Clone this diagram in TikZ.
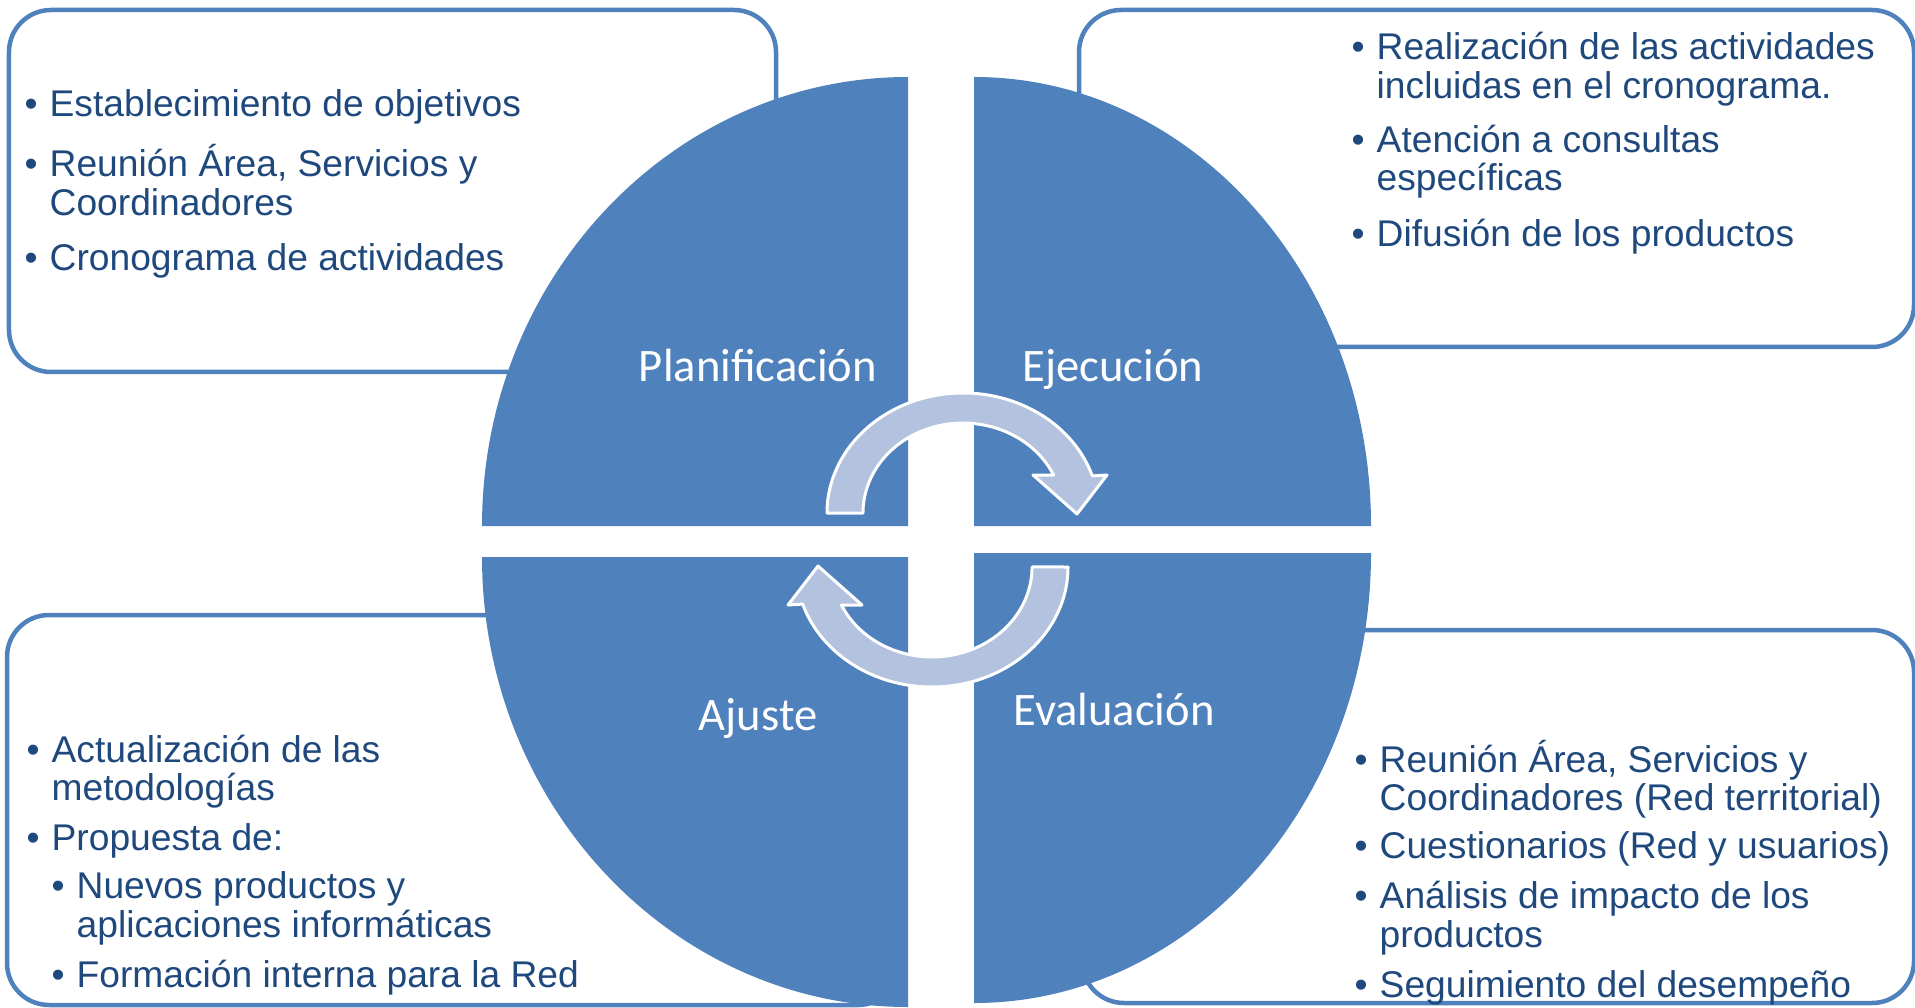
\documentclass[tikz,border=0pt]{standalone}
\usepackage{fontspec}
\setmainfont{Liberation Sans}
\newfontfamily\phasefont{Carlito}
\definecolor{quadblue}{HTML}{4F81BD}
\definecolor{cycleblue}{HTML}{B3C2DE}
\definecolor{listblue}{HTML}{1F497D}
\newcommand{\bul}{\makebox[0.25cm][l]{\textbullet}}
\newcommand{\ind}{\hspace*{0.25cm}}
\newcommand{\listfont}{\fontsize{10.58pt}{10.9pt}\selectfont\lineskiplimit=-30pt}

\begin{document}
\begin{tikzpicture}[listbox/.style={line width=0.045cm,draw=quadblue,fill=white,rounded corners=0.42cm},
  listtext/.style={anchor=base west,inner sep=0pt,text=listblue,font=\listfont},
  phase/.style={anchor=base,inner sep=0pt,text=white,font=\phasefont\fontsize{13.26pt}{15pt}\selectfont}]
\useasboundingbox (0,0) rectangle (19.15,10.07);
\draw[listbox] (0.09,6.35) rectangle (7.76,9.97);
\draw[listbox] (10.79,6.60) rectangle (19.14,9.97);
\draw[listbox] (0.07,0.02) rectangle (9.00,3.92);
\draw[listbox] (10.82,0.04) rectangle (19.14,3.77);
\fill[quadblue] (9.08,4.81) -- (4.82,4.81) arc[start angle=180,end angle=90,x radius=4.26,y radius=4.49] -- cycle;
\fill[quadblue] (9.74,4.81) -- (9.74,9.30) arc[start angle=90,end angle=0,x radius=3.97,y radius=4.49] -- cycle;
\fill[quadblue] (9.08,4.50) -- (4.82,4.50) arc[start angle=180,end angle=270,x radius=4.26,y radius=4.50] -- cycle;
\fill[quadblue] (9.74,4.54) -- (13.71,4.54) arc[start angle=0,end angle=-90,x radius=3.97,y radius=4.50] -- cycle;
\node[phase] (plan) at (7.58,6.25) {Planificación};
\node[phase] (ejec) at (11.13,6.25) {Ejecución};
\node[phase] (ajus) at (7.58,2.77) {Ajuste};
\node[phase] (eval) at (11.14,2.82) {Evaluación};
\foreach \turn in {0,180}
  \draw[white,line width=0.03cm,fill=cycleblue,line join=round,rotate around={\turn:(9.475,4.67)}]
    (8.27,4.94) arc[start angle=180,end angle=18,x radius=1.36,y radius=1.20]
    -- (11.07,5.32) -- (10.77,4.93) -- (10.33,5.32) -- (10.536,5.32)
    arc[start angle=25,end angle=180,x radius=1.00,y radius=0.90] -- cycle;
\node[listtext] (plantext) at (0.24,8.90) {\begin{minipage}[t]{8cm}\raggedright
\bul Establecimiento de objetivos\\[0.165cm]
\bul Reunión Área, Servicios y\\
\ind Coordinadores\\[0.165cm]
\bul Cronograma de actividades\end{minipage}};
\node[listtext] (ejectext) at (13.51,9.47) {\begin{minipage}[t]{8cm}\raggedright
\bul Realización de las actividades\\
\ind incluidas en el cronograma.\\[0.16cm]
\bul Atención a consultas\\
\ind específicas\\[0.17cm]
\bul Difusión de los productos\end{minipage}};
\node[listtext] (ajustext) at (0.26,2.45) {\begin{minipage}[t]{8cm}\raggedright
\bul Actualización de las\\
\ind metodologías\\[0.12cm]
\bul Propuesta de:\\[0.10cm]
\ind\bul Nuevos productos y\\
\ind\ind aplicaciones informáticas\\[0.12cm]
\ind\bul Formación interna para la Red\end{minipage}};
\node[listtext] (evaltext) at (13.54,2.35) {\begin{minipage}[t]{8cm}\raggedright
\bul Reunión Área, Servicios y\\
\ind Coordinadores (Red territorial)\\[0.10cm]
\bul Cuestionarios (Red y usuarios)\\[0.12cm]
\bul Análisis de impacto de los\\
\ind productos\\[0.12cm]
\bul Seguimiento del desempeño\end{minipage}};
\end{tikzpicture}
\end{document}
